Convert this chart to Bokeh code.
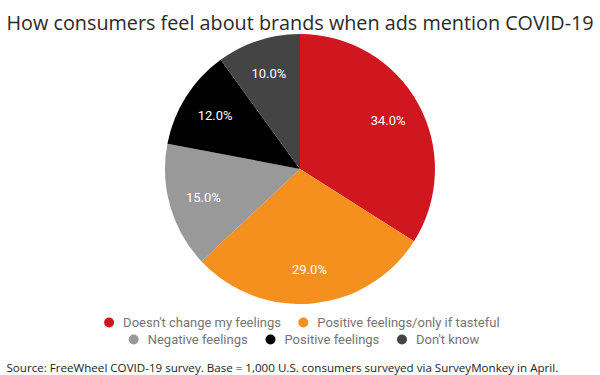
import numpy as np
from bokeh.plotting import figure
from bokeh.models import Range1d, ColumnDataSource
from bokeh.core.properties import value
from bokeh.embed import file_html
from bokeh.resources import INLINE

# ---- data ----
categories = ["Doesn't change my feelings", "Positive feelings/only if tasteful",
              "Negative feelings", "Positive feelings", "Don't know"]
shares = [34.0, 29.0, 15.0, 12.0, 10.0]
colors = ["#D0171F", "#F5901F", "#999999", "#000000", "#444444"]
title_text = "How consumers feel about brands when ads mention COVID-19"
source_text = "Source: FreeWheel COVID-19 survey. Base = 1,000 U.S. consumers surveyed via SurveyMonkey in April."

W, H = 600, 375
p = figure(width=W, height=H, output_backend="svg", toolbar_location=None,
           x_range=Range1d(0, W), y_range=Range1d(0, H), min_border=0)
p.axis.visible = False
p.grid.visible = False
p.outline_line_color = None
p.background_fill_color = "white"

def Y(py):
    return H - py

cx, cy, R = 299.5, Y(168.5), 135

vals = np.array(shares)
frac = vals / vals.sum()
cum = np.concatenate([[0], np.cumsum(frac)])
end_a = np.pi / 2 - 2 * np.pi * cum[:-1]
start_a = np.pi / 2 - 2 * np.pi * cum[1:]
mid_a = (start_a + end_a) / 2

src = ColumnDataSource(dict(start=start_a, end=end_a, color=colors,
                            lx=cx + 0.745 * R * np.cos(mid_a),
                            ly=cy + 0.745 * R * np.sin(mid_a),
                            lab=[f"{v:.1f}%" for v in shares]))
p.wedge(x=cx, y=cy, radius=R, start_angle="start", end_angle="end",
        fill_color="color", line_color=None, source=src)
p.text(x="lx", y="ly", text="lab", source=src, text_color="white",
       text_font=value("Roboto"), text_font_size="13px",
       text_align="center", text_baseline="middle")

# title & source
p.text(x=[6], y=[Y(22)], text=[title_text], text_font=value("Open Sans"),
       text_font_size="19.8px", text_color="#2a2a2a", text_baseline="alphabetic")
p.text(x=[6], y=[Y(367)], text=[source_text], text_font=value("Open Sans"),
       text_font_size="11.6px", text_color="#222222", text_baseline="alphabetic")

# legend (two centred rows)
leg_cx = [108.6, 302.8, 133.2, 270.0, 401.5]
leg_cy = [322, 322, 339, 339, 339]
lsrc = ColumnDataSource(dict(x=leg_cx, y=[Y(v) for v in leg_cy], color=colors,
                             tx=[v + 14 for v in leg_cx], lab=categories))
p.scatter(x="x", y="y", size=10, marker="circle", fill_color="color",
          line_color=None, source=lsrc)
p.text(x="tx", y="y", text="lab", source=lsrc, text_color="#757575",
       text_font=value("Roboto"), text_font_size="13px", text_baseline="middle")

open("out.html", "w").write(file_html(p, INLINE))
